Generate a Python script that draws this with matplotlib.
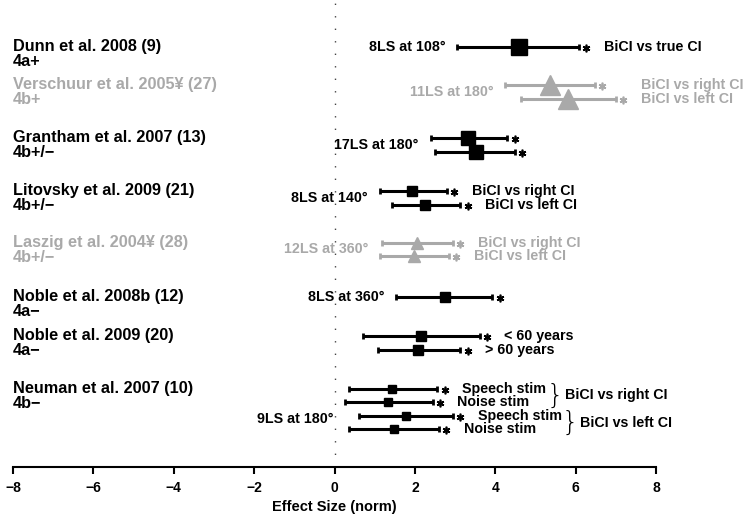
import numpy as np
import matplotlib.pyplot as plt

plt.rcParams['font.family'] = ['Liberation Sans', 'DejaVu Sans']
plt.rcParams['font.weight'] = 'bold'

BLACK = 'black'
GREY = '#a9a9a9'

# studies, top to bottom
studies = ['Dunn et al. 2008 (9)', 'Verschuur et al. 2005\u00a5 (27)',
           'Grantham et al. 2007 (13)', 'Litovsky et al. 2009 (21)',
           'Laszig et al. 2004\u00a5 (28)', 'Noble et al. 2008b (12)',
           'Noble et al. 2009 (20)', 'Neuman et al. 2007 (10)']
levels = ['4a+', '4b+', '4b+/\u2212', '4b+/\u2212', '4b+/\u2212', '4a\u2212', '4a\u2212', '4b\u2212']
setups = ['8LS at 108\u00b0', '11LS at 180\u00b0', '17LS at 180\u00b0', '8LS at 140\u00b0',
          '12LS at 360\u00b0', '8LS at 360\u00b0', '', '9LS at 180\u00b0']
setup_row = [0, 3.21, 7.0, 10.79, 14.47, 17.86, None, 26.57]
grey_study = [False, True, False, False, True, False, False, False]
markers = ['s', '^', 's', 's', '^', 's', 's', 's']
msizes = [11.5, 14, 10, 7.5, 9, 6.5, 6.5, 6]

# one entry per CI line
row_study = [0, 1, 1, 2, 2, 3, 3, 4, 4, 5, 6, 6, 7, 7, 7, 7]
row_y = [0, 2.71, 3.71, 6.5, 7.5, 10.29, 11.29, 14.0, 14.93, 17.86,
         20.64, 21.64, 24.43, 25.36, 26.36, 27.29]
effect = [4.58, 5.35, 5.82, 3.33, 3.51, 1.94, 2.26, 2.06, 1.99, 2.74,
          2.14, 2.09, 1.44, 1.34, 1.79, 1.49]
ci_low = [3.06, 4.25, 4.63, 2.39, 2.51, 1.12, 1.42, 1.19, 1.14, 1.54,
          0.70, 1.09, 0.35, 0.27, 0.62, 0.37]
ci_high = [6.09, 6.47, 7.01, 4.30, 4.48, 2.79, 3.13, 2.94, 2.84, 3.93,
           3.61, 3.13, 2.56, 2.44, 2.94, 2.59]
row_labels = ['BiCI vs true CI', 'BiCI vs right CI', 'BiCI vs left CI', '', '',
              'BiCI vs right CI', 'BiCI vs left CI', 'BiCI vs right CI', 'BiCI vs left CI',
              '', '< 60 years', '> 60 years', 'Speech stim', 'Noise stim',
              'Speech stim', 'Noise stim']
# Neuman groups: (first row, last row, label)
groups = [(12, 13, 'BiCI vs right CI'), (14, 15, 'BiCI vs left CI')]

fig = plt.figure(figsize=(7.44, 5.15), dpi=100)
ax = fig.add_axes([13 / 744, 48 / 515, 643 / 744, 465 / 515])

ax.axvline(0, color='#444444', lw=1, ls=(0, (1, 8)), zorder=0)

fs = 10.3
for i in range(len(row_y)):
    s = row_study[i]
    c = GREY if grey_study[s] else BLACK
    e = effect[i]
    ax.errorbar([e], [row_y[i]], xerr=[[e - ci_low[i]], [ci_high[i] - e]],
                fmt=markers[s], ms=msizes[s], color=c, ecolor=c,
                elinewidth=2.2, capsize=2.5, capthick=2)
    ax.plot(ci_high[i] + 0.18, row_y[i] + 0.1, marker=(6, 2, 0), ms=5.5, mew=1.2,
            color=c, ls='none')
    if row_labels[i]:
        if s == 1:
            lx = max(ci_high[j] for j in range(len(row_y)) if row_study[j] == s) + 0.62
        else:
            lx = ci_high[i] + 0.62
        ax.text(lx, row_y[i], row_labels[i], ha='left', va='center', fontsize=fs, color=c)

for s in range(len(studies)):
    c = GREY if grey_study[s] else BLACK
    ys = [row_y[j] for j in range(len(row_y)) if row_study[j] == s]
    ax.text(-8, ys[0], studies[s], ha='left', va='center', fontsize=11.7, color=c)
    ax.text(-8, ys[0] + 1.05, levels[s], ha='left', va='center', fontsize=11.7, color=c)
    if setups[s]:
        lo = min(ci_low[j] for j in range(len(row_y)) if row_study[j] == s)
        ax.text(lo - 0.3, setup_row[s], setups[s], ha='right', va='center',
                fontsize=fs, color=c)

for a, b, lab in groups:
    bx = ci_high[a] + 2.72
    by = (row_y[a] + row_y[b]) / 2
    ax.text(bx, by, '}', ha='left', va='center', fontsize=19, fontweight='light',
            family='DejaVu Sans')
    ax.text(bx + 0.45, by, lab, ha='left', va='center', fontsize=fs)

ax.set_xlim(-8, 8)
ax.set_ylim(30.0, -3.2)
ax.set_xticks(np.arange(-8, 9, 2))
ax.set_xticklabels([str(v).replace('-', '\u2212') for v in range(-8, 9, 2)],
                   fontsize=10, fontweight='bold')
ax.set_yticks([])
for side in ['left', 'top', 'right']:
    ax.spines[side].set_visible(False)
ax.spines['bottom'].set_linewidth(1.5)
ax.tick_params(axis='x', direction='out', length=5, width=1.5, pad=5)
ax.set_xlabel('Effect Size (norm)', fontsize=10.5, fontweight='bold', labelpad=4)

fig.savefig('out.png', dpi=100)
